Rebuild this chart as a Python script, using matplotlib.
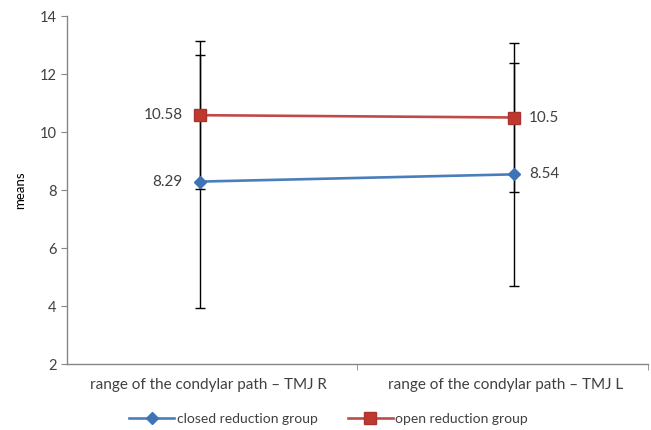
import matplotlib
matplotlib.use("Agg")
import matplotlib.pyplot as plt

categories = ["range of the condylar path \u2013 TMJ R", "range of the condylar path \u2013 TMJ L"]
closed_means = [8.29, 8.54]
closed_sd = [4.37, 3.85]
open_means = [10.58, 10.5]
open_sd = [2.56, 2.56]

plt.rcParams['font.family'] = ['Lato', 'DejaVu Sans']

fig = plt.figure(figsize=(6.51, 4.3), dpi=100)
ax = fig.add_axes([67 / 651, 1 - 364 / 430, (648 - 67) / 651, (364 - 16) / 430])

x = list(range(len(categories)))
blue = '#4A7EBB'
red = '#BE4B48'
txt = '#404040'

ax.errorbar(x, closed_means, yerr=closed_sd, fmt='none', ecolor='black',
            elinewidth=1.0, capsize=3.5, capthick=1.0, zorder=2)
ax.errorbar(x, open_means, yerr=open_sd, fmt='none', ecolor='black',
            elinewidth=1.0, capsize=3.5, capthick=1.0, zorder=2)
ax.plot(x, closed_means, color=blue, lw=1.9, marker='D', ms=6.5,
        mfc='#3F73B5', mec='#3F73B5', label='closed reduction group', zorder=3)
ax.plot(x, open_means, color=red, lw=1.9, marker='s', ms=9,
        mfc='#C0392F', mec='#A8342F', label='open reduction group', zorder=3)

# data labels
ax.text(x[0] - 0.055, closed_means[0], f"{closed_means[0]:g}", ha='right', va='center',
        fontsize=11, color=txt)
ax.text(x[0] - 0.055, open_means[0], f"{open_means[0]:g}", ha='right', va='center',
        fontsize=11, color=txt)
ax.text(x[1] + 0.048, closed_means[1], f"{closed_means[1]:g}", ha='left', va='center',
        fontsize=11, color=txt)
ax.text(x[1] + 0.048, open_means[1], f"{open_means[1]:g}", ha='left', va='center',
        fontsize=11, color=txt)

ax.set_ylim(2, 14)
ax.set_yticks([2, 4, 6, 8, 10, 12, 14])
ax.set_xlim((67 - 200) / 314, (648 - 200) / 314)
ax.set_xticks([(208 - 200) / 314, 1 - 8 / 314])
ax.set_xticklabels(categories, fontsize=11, color=txt)
ax.set_xticks([(357 - 200) / 314, (648 - 200) / 314], minor=True)
ax.tick_params(axis='x', which='major', length=0, pad=10)
ax.tick_params(axis='x', which='minor', length=4, color='#868686')
ax.tick_params(axis='y', length=4, color='#868686', labelsize=10.5, labelcolor=txt)
ax.set_ylabel('means', fontsize=9.5, color='black', labelpad=10)

for s in ['top', 'right']:
    ax.spines[s].set_visible(False)
for s in ['left', 'bottom']:
    ax.spines[s].set_color('#868686')
    ax.spines[s].set_linewidth(1.0)

fig.legend(loc='center', bbox_to_anchor=(0.505, 0.025), ncol=2, frameon=False,
           fontsize=10, handlelength=3.2, columnspacing=2.2, handletextpad=0.2,
           labelcolor=txt)

fig.savefig('out.png', dpi=100)
